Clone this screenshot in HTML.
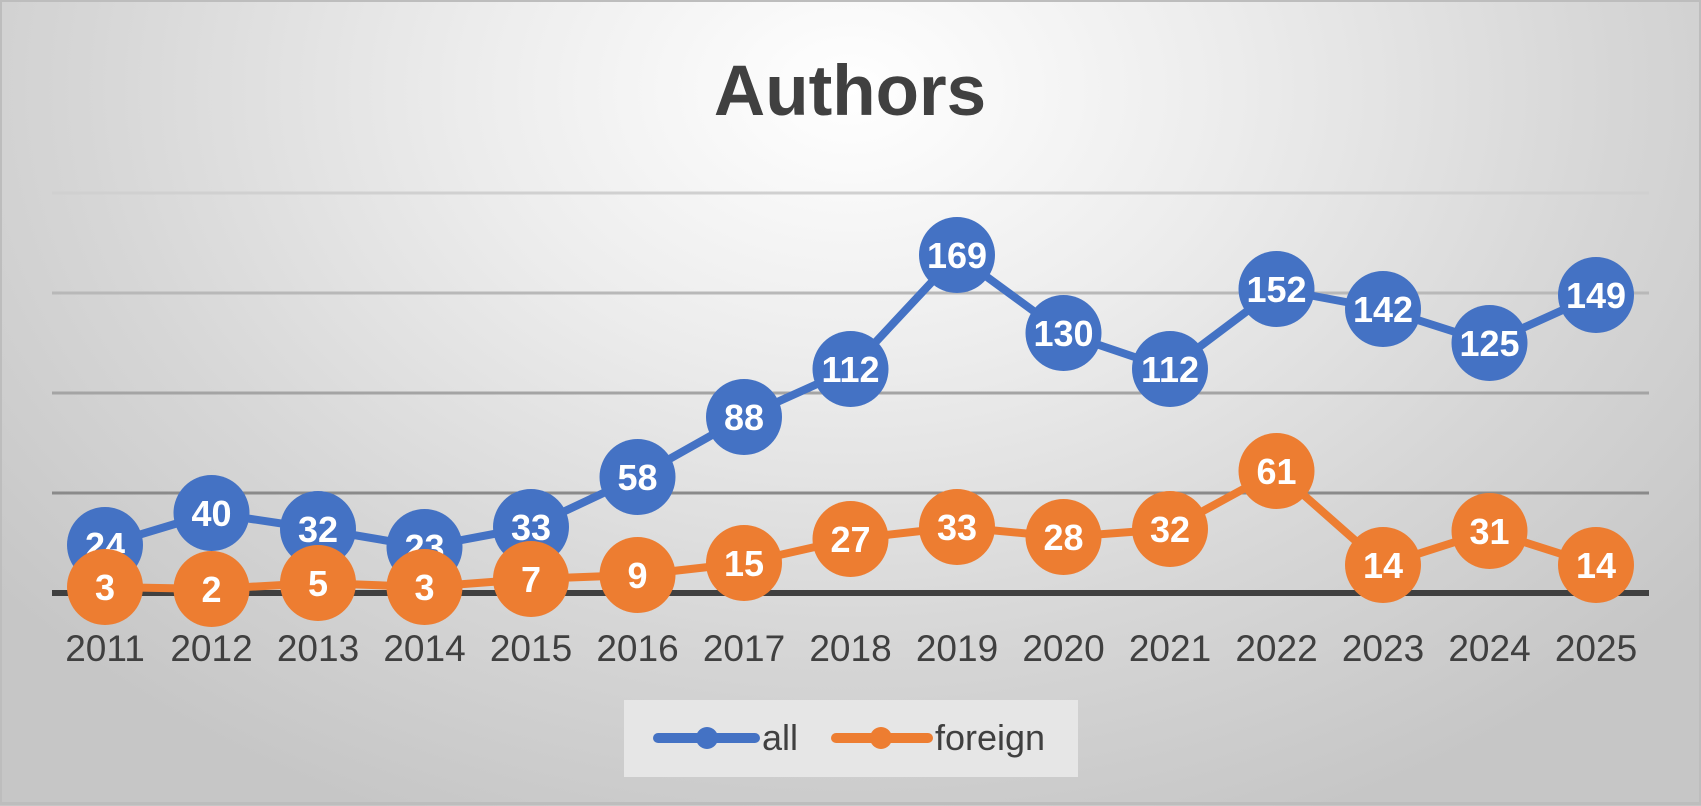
<!DOCTYPE html>
<html><head><meta charset="utf-8"><style>
html,body{margin:0;padding:0}
body{width:1701px;height:806px;overflow:hidden;background:radial-gradient(ellipse 1100px 800px at 850px 90px,#ffffff 0%,#ececec 35%,#d6d6d6 70%,#c6c6c6 100%)}
svg{position:absolute;left:0;top:0}
text{font-family:"Liberation Sans",sans-serif}
</style></head><body>
<svg width="1701" height="806" viewBox="0 0 1701 806">
<rect x="0.5" y="0.5" width="1700" height="803" fill="none" stroke="#bdbdbd" stroke-width="3"/>
<text x="850" y="115" text-anchor="middle" font-size="71" font-weight="bold" fill="#404040">Authors</text>
<line x1="52" y1="193" x2="1649" y2="193" stroke="#d0d0d0" stroke-width="3"/>
<line x1="52" y1="293" x2="1649" y2="293" stroke="#b8b8b8" stroke-width="3"/>
<line x1="52" y1="393" x2="1649" y2="393" stroke="#a4a4a4" stroke-width="3"/>
<line x1="52" y1="493" x2="1649" y2="493" stroke="#8a8a8a" stroke-width="3"/>
<line x1="52" y1="593" x2="1649" y2="593" stroke="#404040" stroke-width="6"/>
<g id="g"></g>
<rect x="624" y="700" width="454" height="77" fill="#e6e6e6"/>
<line x1="658" y1="738" x2="755" y2="738" stroke="#4472C4" stroke-width="10" stroke-linecap="round"/>
<circle cx="707" cy="738" r="11" fill="#4472C4"/>
<text x="762" y="750" font-size="36" fill="#404040">all</text>
<line x1="836" y1="738" x2="928" y2="738" stroke="#ED7D31" stroke-width="10" stroke-linecap="round"/>
<circle cx="881" cy="738" r="11" fill="#ED7D31"/>
<text x="935" y="750" font-size="36" fill="#404040">foreign</text>
</svg>
<script>
var all=[24,40,32,23,33,58,88,112,169,130,112,152,142,125,149];
var fo=[3,2,5,3,7,9,15,27,33,28,32,61,14,31,14];
var ns="http://www.w3.org/2000/svg",g=document.getElementById('g'),s='';
function X(i){return 105+i*106.5}
function Y(v){return 593-2*v}
function series(d,c){
 var p=d.map(function(v,i){return X(i)+','+Y(v)}).join(' ');
 s+='<polyline points="'+p+'" fill="none" stroke="'+c+'" stroke-width="8" stroke-linejoin="round"/>';
 d.forEach(function(v,i){s+='<circle cx="'+X(i)+'" cy="'+Y(v)+'" r="38" fill="'+c+'"/><text x="'+X(i)+'" y="'+(Y(v)+13)+'" text-anchor="middle" font-size="36" font-weight="bold" fill="#fff">'+v+'</text>';});
}
series(all,'#4472C4');series(fo,'#ED7D31');
for(var i=0;i<15;i++)s+='<text x="'+X(i)+'" y="661" text-anchor="middle" font-size="37" fill="#404040">'+(2011+i)+'</text>';
g.innerHTML=s;
</script>
</body></html>
